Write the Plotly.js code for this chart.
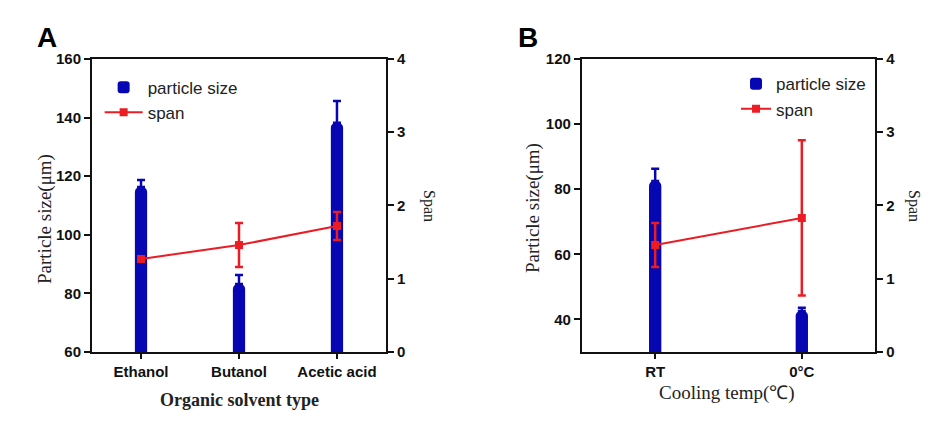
<!DOCTYPE html>
<html>
<head>
<meta charset="utf-8">
<script src="https://cdn.plot.ly/plotly-3.0.1.min.js"></script>
<style>html,body{margin:0;padding:0;background:#fff;}#chart{width:940px;height:430px;}</style>
</head>
<body>
<div id="chart"></div>
<script>
// Panel A data
const solventCategories = ["Ethanol", "Butanol", "Acetic acid"];
const solventSize = [116.3, 83.2, 138.2];
const solventSizeErr = [2.4, 3.1, 7.5];
const solventSpan = [1.27, 1.46, 1.72];
const solventSpanErr = [0.0, 0.30, 0.19];

// Panel B data
const coolingCategories = ["RT", "0°C"];
const coolingSize = [82.5, 42.6];
const coolingSizeErr = [3.8, 1.0];
const coolingSpan = [1.46, 1.83];
const coolingSpanErr = [0.30, 1.06];

const leftTicksA = [60, 80, 100, 120, 140, 160];
const leftTicksB = [40, 60, 80, 100, 120];
const spanTicks = [0, 1, 2, 3, 4];

const BLUE = "#0606b2";
const RED = "#ec1c24";

function zeros(a){ return a.map(() => 0); }

const traces = [
  {
    type: "bar", x: solventCategories, y: solventSize, name: "particle size",
    xaxis: "x", yaxis: "y", width: 0.125, legend: "legend",
    marker: {color: BLUE, cornerradius: 5, line: {width: 0}},
    error_y: {type: "data", symmetric: false, array: solventSizeErr, arrayminus: zeros(solventSizeErr), color: BLUE, thickness: 2.5, width: 4}
  },
  {
    type: "scatter", mode: "lines+markers", x: solventCategories, y: solventSpan, name: "span",
    xaxis: "x", yaxis: "y2", legend: "legend",
    line: {color: RED, width: 2}, marker: {color: RED, symbol: "square", size: 8},
    error_y: {type: "data", array: solventSpanErr, color: RED, thickness: 2.5, width: 4}
  },
  {
    type: "bar", x: coolingCategories, y: coolingSize, name: "particle size",
    xaxis: "x2", yaxis: "y3", width: 0.084, legend: "legend2",
    marker: {color: BLUE, cornerradius: 5, line: {width: 0}},
    error_y: {type: "data", symmetric: false, array: coolingSizeErr, arrayminus: zeros(coolingSizeErr), color: BLUE, thickness: 2.5, width: 4}
  },
  {
    type: "scatter", mode: "lines+markers", x: coolingCategories, y: coolingSpan, name: "span",
    xaxis: "x2", yaxis: "y4", legend: "legend2",
    line: {color: RED, width: 2}, marker: {color: RED, symbol: "square", size: 8},
    error_y: {type: "data", array: coolingSpanErr, color: RED, thickness: 2.5, width: 4}
  }
];

const tickFont = {family: "Liberation Sans, Arial, sans-serif", size: 15, color: "#111", weight: "bold"};
const baseAxis = {
  showline: true, linecolor: "#111", linewidth: 2, ticks: "outside", ticklen: 6, tickwidth: 2,
  tickcolor: "#111", showgrid: false, zeroline: false, tickfont: tickFont, fixedrange: true
};

const yDom = [0.1814, 0.8628];
const serif = "Liberation Serif, Times New Roman, serif";
function ann(text, px, py, size, angle, weight){
  return {text: text, x: px/940, y: 1 - py/430, xref: "paper", yref: "paper", xanchor: "center", yanchor: "middle",
    textangle: angle, showarrow: false, font: {family: serif, size: size, color: "#222", weight: weight || "normal"}};
}
const layout = {
  width: 940, height: 430,
  margin: {l: 0, r: 0, t: 0, b: 0},
  paper_bgcolor: "#ffffff", plot_bgcolor: "rgba(0,0,0,0)",
  showlegend: true,
  xaxis: Object.assign({}, baseAxis, {domain: [0.0979, 0.4106], anchor: "y", range: [-0.5, 2.5], mirror: true, ticklen: 5, type: "category"}),
  yaxis: Object.assign({}, baseAxis, {domain: yDom, anchor: "x", range: [60, 160], tickvals: leftTicksA}),
  yaxis2: Object.assign({}, baseAxis, {overlaying: "y", side: "right", anchor: "x", range: [0, 4], tickvals: spanTicks}),
  xaxis2: Object.assign({}, baseAxis, {domain: [0.619, 0.931], anchor: "y3", range: [-0.5, 1.5], mirror: true, ticklen: 5, type: "category"}),
  yaxis3: Object.assign({}, baseAxis, {domain: yDom, anchor: "x2", range: [30, 120], tickvals: leftTicksB}),
  yaxis4: Object.assign({}, baseAxis, {overlaying: "y3", side: "right", anchor: "x2", range: [0, 4], tickvals: spanTicks}),
  legend: {
    x: 0.106, y: 0.838, xanchor: "left", yanchor: "top", bgcolor: "rgba(0,0,0,0)",
    font: {family: "Liberation Sans, Arial, sans-serif", size: 17, color: "#222"},
    itemwidth: 38, tracegroupgap: 0
  },
  legend2: {
    x: 0.783, y: 0.846, xanchor: "left", yanchor: "top", bgcolor: "rgba(0,0,0,0)",
    font: {family: "Liberation Sans, Arial, sans-serif", size: 17, color: "#222"},
    itemwidth: 30, tracegroupgap: 0
  },
  annotations: [
    {text: "A", x: 35/940, y: 1 - 38/430, xref: "paper", yref: "paper", xanchor: "left", yanchor: "middle", showarrow: false,
     font: {family: "Liberation Sans, Arial, sans-serif", size: 28, weight: "bold", color: "#000"}},
    {text: "B", x: 516/940, y: 1 - 38/430, xref: "paper", yref: "paper", xanchor: "left", yanchor: "middle", showarrow: false,
     font: {family: "Liberation Sans, Arial, sans-serif", size: 28, weight: "bold", color: "#000"}},
    ann("Particle size(μm)", 45, 219, 19, -90),
    ann("Particle size(μm)", 533, 208, 19, -90),
    ann("Span", 429, 206, 16, 90),
    ann("Span", 914, 206, 16, 90),
    ann("Organic solvent type", 240, 400, 18, 0, "bold"),
    ann("Cooling temp(℃)", 727, 393, 19, 0)
  ]
};

Plotly.newPlot("chart", traces, layout, {displayModeBar: false, staticPlot: true});
</script>
</body>
</html>
